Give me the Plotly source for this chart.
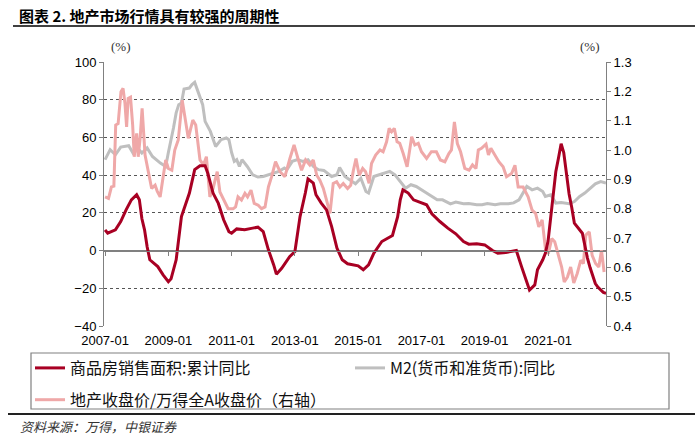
import plotly.graph_objects as go

# ---------------- data ----------------
sales_dates = ["2007-01","2007-02","2007-05","2007-07","2007-09","2007-11",
               "2008-01","2008-02","2008-03","2008-04","2008-05","2008-06","2008-09","2008-11",
               "2009-01","2009-02","2009-04","2009-06","2009-09","2009-11",
               "2010-01","2010-03","2010-04","2010-06","2010-08","2010-10","2010-12",
               "2011-01","2011-03","2011-06","2011-09","2011-11",
               "2012-01","2012-03","2012-05","2012-06","2012-08","2012-11",
               "2013-01","2013-03","2013-05","2013-06","2013-08","2013-09","2013-11",
               "2014-01","2014-03","2014-05","2014-07","2014-09",
               "2015-01","2015-03","2015-05","2015-07","2015-10","2015-12",
               "2016-02","2016-04","2016-05","2016-06","2016-08","2016-10",
               "2017-01","2017-03","2017-05","2017-08","2017-11",
               "2018-02","2018-05","2018-07","2018-10",
               "2019-01","2019-04","2019-06","2019-09","2019-11",
               "2020-01","2020-03","2020-05","2020-06","2020-08","2020-09","2020-11","2020-12",
               "2021-01","2021-02","2021-03","2021-04","2021-05","2021-06","2021-07","2021-08",
               "2021-09","2021-10","2021-11",
               "2022-02","2022-03","2022-04","2022-05","2022-06","2022-07","2022-08","2022-09",
               "2022-10","2022-11"]
sales_yoy = [11, 9.2, 11, 15.4, 21.6, 26.9,
             29.6, 27, 17, 11, 2, -4.9, -8.5, -12.9,
             -16.5, -15, -4.9, 18, 30.5, 42.9,
             45, 45, 41, 30.5, 25, 16.3, 10,
             9.2, 11.5, 11, 11.9, 12.4,
             10, 0.4, -7.6, -12.5, -9.4, -3.2,
             -0.5, 18, 30.5, 38, 35.8, 29.6, 25.2,
             21.6, 12.7, 1.3, -4.9, -7,
             -8.1, -10.2, -7.6, -1.4, 4.8, 6.6,
             8, 18, 26.9, 32.2, 30.5, 26.9,
             25.5, 24.3, 19.5, 15.4, 11.9,
             8.9, 4.8, 3.4, 3.6,
             3, 0, -1.4, -1, -0.5,
             0, -8.5, -17.3, -20.9, -18.2, -10.2, -4.9, -1.4,
             5, 18, 30.5, 42, 49, 56.7, 52, 40,
             30, 23, 14.5,
             9.2, 2, -4, -9, -13.5, -17.5, -19.5, -21,
             -22.2, -22.6]

m2_dates = ["2007-01","2007-03","2007-05","2007-07","2007-10","2007-12",
            "2008-01","2008-03","2008-05","2008-07","2008-10","2008-12",
            "2009-01","2009-02","2009-03","2009-04","2009-05","2009-06","2009-07","2009-09","2009-10","2009-11",
            "2010-01","2010-02","2010-03","2010-05","2010-07","2010-09","2010-11","2010-12",
            "2011-01","2011-02","2011-03","2011-04","2011-05","2011-07","2011-09","2011-11",
            "2012-01","2012-03","2012-05","2012-07","2012-09","2012-10","2012-12",
            "2013-02","2013-04","2013-06","2013-08","2013-10","2013-12",
            "2014-03","2014-05","2014-06","2014-08","2014-10","2014-12",
            "2015-02","2015-04","2015-05","2015-06","2015-07","2015-09","2015-11",
            "2016-01","2016-03","2016-05","2016-07","2016-09","2016-11",
            "2017-02","2017-04","2017-07","2017-09","2017-12",
            "2018-02","2018-05","2018-07","2018-10","2018-12",
            "2019-02","2019-05","2019-07","2019-10","2019-12",
            "2020-02","2020-04","2020-05","2020-07","2020-09","2020-11","2020-12",
            "2021-02","2021-04","2021-06","2021-09","2021-11",
            "2022-01","2022-03","2022-05","2022-07","2022-09","2022-11"]
m2_yoy = [48.2, 53.5, 50.8, 54.9, 55.6, 50.8,
          55, 51.7, 54.4, 49.9, 46.4, 44.6,
          52, 58, 65, 73, 77.4, 78.3, 85.7, 86.2, 88, 89.2,
          81.8, 77.4, 68.5, 63.2, 55.2, 58.8, 59.7, 58.8,
          52, 47.3, 48.2, 44.6, 48.2, 44.6, 40.2, 39,
          39.3, 40.2, 41.1, 42, 43.8, 42.9, 47.3,
          48.2, 47.3, 48.2, 44.6, 42.9, 42.5,
          39.3, 40.2, 44.1, 39.3, 37.5, 35.4,
          38.4, 31.3, 30.5, 34.9, 39.3, 40.2, 41.1,
          42, 40.2, 36.6, 33.1, 34.9, 34,
          31.3, 29.6, 26.9, 26.9, 24.8,
          25.7, 24.8, 25, 24.3, 24.3,
          25, 24.3, 24.8, 24.8, 25.3,
          26.9, 32.2, 34, 32.2, 33.1, 31.3, 28.7,
          29.6, 25.2, 25.5, 24.8, 26,
          28.7, 30.5, 33.1, 35.4, 36.6, 35.8]

ratio_dates = ["2007-01-01","2007-02-10","2007-03-16","2007-04-13","2007-05-04","2007-06-01",
               "2007-07-04","2007-07-28","2007-08-19","2007-09-07","2007-09-25","2007-10-22",
               "2007-11-16","2007-12-04","2008-01-01","2008-01-19","2008-02-10","2008-03-04",
               "2008-04-07","2008-05-13","2008-06-22","2008-08-01","2008-08-25","2008-09-28",
               "2008-11-04","2008-12-01","2009-01-01","2009-02-10","2009-03-16","2009-04-25",
               "2009-06-10","2009-07-10","2009-08-19","2009-10-10","2009-11-13","2010-01-01",
               "2010-02-10","2010-03-16","2010-04-25","2010-06-01","2010-07-19","2010-08-19",
               "2010-10-16","2010-11-22","2011-01-19","2011-02-16","2011-03-16","2011-04-25",
               "2011-06-04","2011-07-04","2011-08-13","2011-09-19","2011-11-04","2011-12-13",
               "2012-01-22","2012-03-01","2012-04-07","2012-05-22","2012-07-13","2012-09-07",
               "2012-11-04","2012-12-22","2013-02-10","2013-03-19","2013-05-04","2013-06-22",
               "2013-08-01","2013-09-10","2013-10-16","2013-11-25","2014-01-01","2014-02-10",
               "2014-03-19","2014-04-28","2014-06-04","2014-07-13","2014-09-01","2014-10-07",
               "2014-11-07","2014-12-07","2015-01-13","2015-02-22","2015-03-28","2015-05-07",
               "2015-06-04","2015-07-22","2015-09-10","2015-10-16","2015-11-25","2015-12-25",
               "2016-01-22","2016-02-22","2016-03-25","2016-04-25","2016-06-04","2016-07-19",
               "2016-09-10","2016-10-16","2016-11-25","2017-01-01","2017-03-01","2017-04-25",
               "2017-06-22","2017-08-07","2017-09-28","2017-11-13","2017-12-13","2018-01-16",
               "2018-02-19","2018-03-28","2018-05-16","2018-07-04","2018-08-13","2018-09-22",
               "2018-10-19","2018-11-25","2019-01-16","2019-02-13","2019-03-13","2019-04-28",
               "2019-06-13","2019-08-01","2019-09-10","2019-11-07","2019-12-16","2020-01-22",
               "2020-03-19","2020-05-16","2020-07-01","2020-08-10","2020-09-16","2020-10-25",
               "2020-12-04","2021-01-04","2021-02-13","2021-03-19","2021-04-28","2021-06-07",
               "2021-07-07","2021-08-13","2021-09-19","2021-10-25","2021-12-04","2022-01-13",
               "2022-02-13","2022-03-13","2022-04-22","2022-05-25","2022-07-04","2022-08-10",
               "2022-09-10","2022-10-10"]
ratio_vals = [0.840, 0.835, 0.874, 0.877, 1.085, 1.090,
              1.199, 1.210, 1.159, 1.079, 1.176, 1.180,
              1.085, 0.977, 1.057, 0.977, 1.040, 1.142,
              0.983, 0.931, 0.869, 0.880, 0.860, 0.840,
              0.920, 0.966, 0.937, 0.931, 1.000, 1.034,
              1.170, 1.113, 1.040, 1.102, 1.085, 0.966,
              0.949, 0.977, 0.840, 0.869, 0.926, 0.857,
              0.824, 0.800, 0.800, 0.806, 0.840, 0.829,
              0.852, 0.840, 0.863, 0.818, 0.812, 0.800,
              0.806, 0.874, 0.909, 0.960, 0.926, 0.909,
              0.971, 1.017, 0.966, 0.931, 0.966, 0.949,
              0.966, 0.914, 0.897, 0.869, 0.829, 0.784,
              0.886, 0.892, 0.874, 0.886, 0.869, 0.880,
              0.931, 0.971, 0.914, 0.937, 0.926, 0.886,
              0.954, 0.983, 1.000, 0.994, 1.028, 1.074,
              1.062, 1.074, 1.028, 1.023, 0.988, 0.943,
              1.045, 1.017, 1.023, 0.994, 0.971, 0.994,
              0.994, 0.966, 0.960, 0.988, 1.000, 1.096,
              1.022, 0.994, 0.937, 0.931, 0.949, 0.937,
              1.000, 1.006, 1.020, 0.983, 1.006, 0.983,
              0.960, 0.943, 0.909, 0.920, 0.948, 0.874,
              0.874, 0.840, 0.795, 0.784, 0.738, 0.762,
              0.658, 0.647, 0.698, 0.687, 0.647, 0.601,
              0.550, 0.567, 0.601, 0.547, 0.579, 0.624,
              0.613, 0.710, 0.721, 0.641, 0.613, 0.601,
              0.658, 0.584]

x_tick_labels_start = "2007-01-01"
left_ticks = [-40, -20, 0, 20, 40, 60, 80, 100]
right_ticks = [0.4, 0.5, 0.6, 0.7, 0.8, 0.9, 1.0, 1.1, 1.2, 1.3]

name_sales = "商品房销售面积:累计同比"
name_m2 = "M2(货币和准货币):同比"
name_ratio = "地产收盘价/万得全A收盘价（右轴）"
title_text = "图表 2. 地产市场行情具有较强的周期性"
source_text = "资料来源：万得，中银证券"

# ---------------- layout helpers ----------------
W, H = 700, 439
PL, PR, PT, PB = 104, 606, 62, 326


def fx(px):
    return (px - PL) / (PR - PL)


def fy(py):
    return (PB - py) / (PB - PT)


CJK = "Noto Sans CJK SC"
NUM = "Liberation Sans, Arial, sans-serif"
RED = "#A80023"
GRAY = "#BFBFBF"
PINK = "#EFA8A8"
AXC = "#808080"
XRANGE = ["2006-12-20", "2022-11-01"]
LW = 3

fig = go.Figure()

fig.add_trace(go.Scatter(x=m2_dates, y=m2_yoy, mode="lines", name=name_m2,
                         line=dict(color=GRAY, width=LW), xaxis="x", yaxis="y",
                         legend="legend2"))
fig.add_trace(go.Scatter(x=ratio_dates, y=ratio_vals, mode="lines", name=name_ratio,
                         line=dict(color=PINK, width=LW), xaxis="x", yaxis="y2",
                         legend="legend", legendgroup="b", legendrank=2))
fig.add_trace(go.Scatter(x=sales_dates, y=sales_yoy, mode="lines", name=name_sales,
                         line=dict(color=RED, width=LW), xaxis="x2", yaxis="y",
                         legend="legend", legendgroup="a", legendrank=1))

fig.update_layout(
    width=W, height=H,
    margin=dict(l=PL, r=W - PR, t=PT, b=H - PB, autoexpand=False),
    paper_bgcolor="white", plot_bgcolor="white",
    showlegend=True,
    xaxis=dict(type="date", range=XRANGE, tick0=x_tick_labels_start, dtick="M24",
               tickformat="%Y-%m", showgrid=False, showline=False, zeroline=False,
               ticks="", automargin=False, ticklabelstandoff=5,
               tickfont=dict(family=NUM, size=13, color="#000")),
    xaxis2=dict(type="date", range=XRANGE, tick0=x_tick_labels_start, dtick="M24",
                overlaying="x", anchor="free", position=(0 - left_ticks[0]) / (left_ticks[-1] - left_ticks[0]),
                showline=True, linecolor=AXC, linewidth=1, ticks="outside", ticklen=4,
                tickcolor=AXC, showticklabels=False, showgrid=False, zeroline=False),
    yaxis=dict(range=[left_ticks[0], left_ticks[-1]], tickvals=left_ticks,
               showgrid=True, griddash="dot", gridcolor="#555555", gridwidth=1,
               zeroline=True, zerolinecolor=AXC, zerolinewidth=1,
               showline=True, linecolor=AXC, linewidth=1, automargin=False,
               ticks="outside", ticklen=4, tickcolor=AXC,
               tickfont=dict(family=NUM, size=13, color="#000")),
    yaxis2=dict(range=[right_ticks[0], right_ticks[-1] + 1e-9], tickvals=right_ticks,
                tickformat=".1f", overlaying="y", side="right", anchor="x",
                showgrid=False, zeroline=False, showline=True, linecolor=AXC, linewidth=1,
                ticks="outside", ticklen=4, tickcolor=AXC, automargin=False,
                tickfont=dict(family=NUM, size=13, color="#000")),
    legend=dict(x=fx(30), y=fy(351), xanchor="left", yanchor="top",
                orientation="v", traceorder="grouped", tracegroupgap=8,
                bgcolor="rgba(0,0,0,0)", borderwidth=0,
                font=dict(family=CJK, size=16, color="#111")),
    legend2=dict(x=fx(350), y=fy(351), xanchor="left", yanchor="top",
                 orientation="v", bgcolor="rgba(0,0,0,0)", borderwidth=0,
                 font=dict(family=CJK, size=16, color="#111")),
)

# title, unit labels, source
fig.add_annotation(xref="paper", yref="paper", x=fx(17), y=fy(15), xanchor="left", yanchor="middle",
                   text="<b>" + title_text + "</b>", showarrow=False,
                   font=dict(family=CJK, size=15, color="#000"))
fig.add_annotation(xref="paper", yref="paper", x=fx(121), y=fy(47), xanchor="center", yanchor="middle",
                   text="(%)", showarrow=False,
                   font=dict(family="Liberation Serif, Times New Roman, serif", size=13, color="#333"))
fig.add_annotation(xref="paper", yref="paper", x=fx(590), y=fy(47), xanchor="center", yanchor="middle",
                   text="(%)", showarrow=False,
                   font=dict(family="Liberation Serif, Times New Roman, serif", size=13, color="#333"))
fig.add_annotation(xref="paper", yref="paper", x=fx(18), y=fy(426), xanchor="left", yanchor="middle",
                   text="<i>" + source_text + "</i>", showarrow=False,
                   font=dict(family=CJK, size=13, color="#333"))

# decorative rules and legend frame
fig.add_shape(type="line", xref="paper", yref="paper", x0=fx(13), x1=fx(695), y0=fy(26), y1=fy(26),
              line=dict(color="#000", width=1.5))
fig.add_shape(type="line", xref="paper", yref="paper", x0=fx(8), x1=fx(695), y0=fy(414), y1=fy(414),
              line=dict(color="#222", width=2))
fig.add_shape(type="rect", xref="paper", yref="paper", x0=fx(31), x1=fx(669), y0=fy(353), y1=fy(409),
              line=dict(color=AXC, width=1.2), fillcolor="rgba(0,0,0,0)")

fig.write_html("out.html", config={"displayModeBar": False},
               post_script="document.body.style.margin='0px';document.body.style.overflow='hidden';")
